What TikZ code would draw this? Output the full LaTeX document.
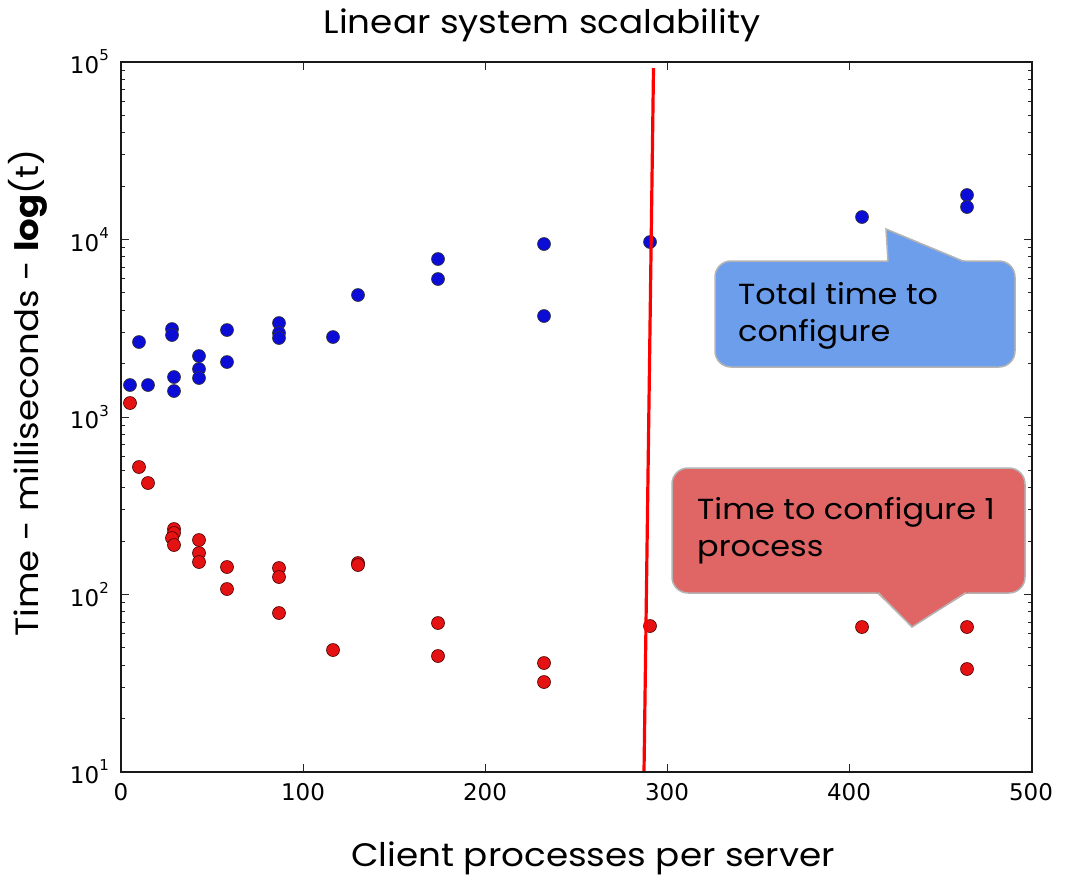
\documentclass[tikz,border=0pt]{standalone}
\usepackage{fontspec}
\setmainfont{Poppins}[FakeStretch=1.1]
\newfontfamily\tickfont{DejaVu Sans}
\definecolor{ptblue}{RGB}{12,12,215}
\definecolor{ptred}{RGB}{228,18,18}
\definecolor{cblue}{HTML}{6D9EEB}
\definecolor{cred}{HTML}{E06666}
\definecolor{cborder}{HTML}{B4B4B4}
\tikzset{
  bpt/.style={fill=ptblue,draw=black!80,line width=0.6pt},
  rpt/.style={fill=ptred,draw=black!70!red,line width=0.6pt},
  ticklab/.style={font=\tickfont\fontsize{23}{26}\selectfont,inner sep=0pt},
  bigtext/.style={font=\fontsize{32.5}{38}\selectfont,inner sep=0pt},
  calltext/.style={font=\fontsize{29}{37.5}\selectfont,inner sep=0pt,align=left,anchor=north west},
  axisline/.style={line width=1.6pt,draw=black!90},
  tickline/.style={line width=1pt,draw=black!85},
}
\newcommand{\tensup}[1]{10\raisebox{0.55em}{\fontsize{15}{16}\selectfont #1}}
\begin{document}
\begin{tikzpicture}[x=1pt,y=-1pt]
\useasboundingbox[fill=white] (0,0) rectangle (1066,879);
% title and labels
\node[bigtext,anchor=base] (title) at (542,33) {Linear system scalability};
\node[bigtext,anchor=base] (xlabel) at (593,866) {Client processes per server};
\node[bigtext,anchor=base,rotate=90,font=\fontsize{32.3}{38}\selectfont] (ylabel) at (38,393) {Time - milliseconds - \textbf{log}(t)};
% ticks on y (log)
\foreach \k in {1,2,3,4}{
  \foreach \m in {2,...,9}{
    \pgfmathsetmacro{\yy}{772-177.5*(\k-1+log10(\m))}
    \draw[tickline] (121,\yy) -- (125,\yy);
    \draw[tickline] (1032,\yy) -- (1028,\yy);
  }
}
\foreach \k in {2,3,4}{
  \pgfmathsetmacro{\yy}{772-177.5*(\k-1)}
  \draw[tickline] (121,\yy) -- (129,\yy);
  \draw[tickline] (1032,\yy) -- (1024,\yy);
}
\foreach \xx in {303,485,667,849}{
  \draw[tickline] (\xx,772) -- (\xx,764);
  \draw[tickline] (\xx,62) -- (\xx,70);
}
% tick labels
\node[ticklab,anchor=east] (y1) at (109,772) {\tensup{1}};
\node[ticklab,anchor=east] (y2) at (109,594.5) {\tensup{2}};
\node[ticklab,anchor=east] (y3) at (109,417) {\tensup{3}};
\node[ticklab,anchor=east] (y4) at (109,239.5) {\tensup{4}};
\node[ticklab,anchor=east] (y5) at (109,62) {\tensup{5}};
\foreach \v/\xx in {0/121,100/303,200/485,300/667,400/849,500/1031}{
  \node[ticklab,anchor=center] (x\v) at (\xx,792) {\v};
}
% blue points
\foreach \px/\py in {130/385,139/342,148/385,172/329,172/335,174/377,174/391,199/356,199/369,199/378,227/330,227/362,279/323,279/333,279/338,333/337,358/295,438/259,438/279,544/244,544/316,650/242,862/217,967/195,967/207}{
  \path[bpt] (\px,\py) circle[radius=6.5];
}
% red points
\foreach \px/\py in {130/403,139/467,148/483,174/529,174/533,172/538,174/545,199/540,199/553,199/562,227/567,227/589,279/568,279/577,279/613,333/650,358/563,358/565,438/623,438/656,544/663,544/682,650/626,862/627,967/627,967/669}{
  \path[rpt] (\px,\py) circle[radius=6.5];
}
% red line
\coordinate (ltop) at (653.5,68);
\coordinate (lbot) at (644,772);
\draw[red,line width=3.2pt] (ltop) -- (lbot);
% frame
\draw[axisline] (121,62) rectangle (1032,772);
% blue callout
\path[fill=cblue,draw=cborder,line width=1.5pt,rounded corners=16] (715,261) rectangle (1015,367);
\fill[cblue] (888.1,263) -- (886,229) -- (969,263) -- cycle;
\draw[cborder,line width=1.5pt,line join=miter] (888,261.5) -- (886,229) -- (964,261.5);
\node[calltext] (bluetext) at (738,282) {Total time to\\configure};
% red callout
\path[fill=cred,draw=cborder,line width=1.5pt,rounded corners=16] (672,468) rectangle (1025,593);
\fill[cred] (875,591) -- (912,627) -- (970,591) -- cycle;
\draw[cborder,line width=1.5pt,line join=miter] (878,592.5) -- (912,627) -- (966,592.5);
\node[calltext] (redtext) at (697,497) {Time to configure 1\\process};
\end{tikzpicture}
\end{document}
